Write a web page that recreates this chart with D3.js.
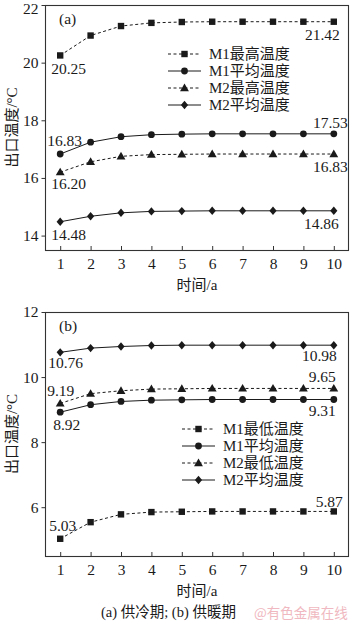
<!DOCTYPE html>
<html>
<head>
<meta charset="utf-8">
<script src="https://cdn.jsdelivr.net/npm/d3@7"></script>
<style>
  html, body { margin: 0; padding: 0; background: #fff; }
  svg { display: block; }
  .num { font-family: "Liberation Serif", "Times New Roman", serif; }
  .cjk { font-family: "Liberation Serif", "Noto Sans CJK SC", serif; }
</style>
</head>
<body>
<svg id="chart" width="350" height="624"></svg>
<script>
// Years on the x axis
const years = [1, 2, 3, 4, 5, 6, 7, 8, 9, 10];

// (a) cooling period, outlet temperature (°C)
const coolM1Max = [20.25, 20.94, 21.27, 21.38, 21.41, 21.42, 21.42, 21.42, 21.42, 21.42];
const coolM1Avg = [16.83, 17.24, 17.43, 17.50, 17.52, 17.53, 17.53, 17.53, 17.53, 17.53];
const coolM2Max = [16.20, 16.56, 16.75, 16.81, 16.82, 16.83, 16.83, 16.83, 16.83, 16.83];
const coolM2Avg = [14.48, 14.67, 14.79, 14.84, 14.85, 14.86, 14.86, 14.86, 14.86, 14.86];

// (b) heating period, outlet temperature (°C)
const heatM1Min = [5.03, 5.54, 5.78, 5.85, 5.86, 5.87, 5.87, 5.87, 5.87, 5.87];
const heatM1Avg = [8.92, 9.15, 9.25, 9.29, 9.30, 9.31, 9.31, 9.31, 9.31, 9.31];
const heatM2Min = [9.19, 9.49, 9.58, 9.63, 9.64, 9.65, 9.65, 9.65, 9.65, 9.65];
const heatM2Avg = [10.76, 10.89, 10.94, 10.97, 10.98, 10.98, 10.98, 10.98, 10.98, 10.98];

// Axis ticks
const coolTicks = [14, 16, 18, 20, 22];
const heatTicks = [6, 8, 10, 12];

// Texts
const legendCool = ["M1最高温度", "M1平均温度", "M2最高温度", "M2平均温度"];
const legendHeat = ["M1最低温度", "M1平均温度", "M2最低温度", "M2平均温度"];
const yTitle = "出口温度/°C";
const xTitle = "时间/a";
const caption = "(a) 供冷期; (b) 供暖期";
const watermark = "@有色金属在线";

const svg = d3.select("#chart");
const ink = "#1a1a1a";

function marker(g, shape, x, y) {
  if (shape === "square") {
    g.append("rect").attr("x", x - 3.2).attr("y", y - 3.2).attr("width", 6.4).attr("height", 6.4).attr("fill", ink);
  } else if (shape === "circle") {
    g.append("circle").attr("cx", x).attr("cy", y).attr("r", 3.4).attr("fill", ink);
  } else if (shape === "triangle") {
    g.append("path").attr("d", d3.symbol(d3.symbolTriangle, 34)()).attr("transform", `translate(${x},${y + 0.6})`).attr("fill", ink);
  } else {
    g.append("path").attr("d", `M0,-4.2L3.6,0L0,4.2L-3.6,0Z`).attr("transform", `translate(${x},${y})`).attr("fill", ink);
  }
}

function panel(cfg) {
  const { top, bottom, left, right, domain, ticks, series, legend, tag, legendX, legendY } = cfg;
  const x = d3.scaleLinear().domain([0.5, 10.5]).range([left, right]);
  const y = d3.scaleLinear().domain(domain).range([bottom, top]);
  const g = svg.append("g");

  // y axis (outward ticks)
  const ya = g.append("g").attr("transform", `translate(${left},0)`)
    .call(d3.axisLeft(y).tickValues(ticks).tickSize(3.5).tickPadding(3).tickFormat(d3.format("d")));
  ya.select(".domain").remove();
  ya.selectAll("line").attr("stroke", "#333");
  ya.selectAll("text").attr("class", "num").attr("font-size", 15.5).attr("fill", ink)
    // keep the topmost label inside the page
    .attr("dy", d => (y(d) < 10 ? "0.55em" : "0.32em"));

  // x axis (inward ticks)
  const xa = g.append("g").attr("transform", `translate(0,${bottom})`)
    .call(d3.axisBottom(x).tickValues(years).tickSize(-4).tickPadding(8));
  xa.select(".domain").remove();
  xa.selectAll("line").attr("stroke", "#333");
  xa.selectAll("text").attr("class", "num").attr("font-size", 15.5).attr("fill", ink);

  // frame
  g.append("rect").attr("x", left + 0.5).attr("y", top + 0.5)
    .attr("width", right - left - 1).attr("height", bottom - top)
    .attr("fill", "none").attr("stroke", "#333").attr("stroke-width", 1.1);

  // panel tag
  g.append("text").attr("class", "num").attr("x", left + 14).attr("y", top + 19)
    .attr("font-size", 15.5).attr("fill", ink).text(tag);

  // series
  const line = d3.line().x((d, i) => x(years[i])).y(d => y(d));
  series.forEach(s => {
    g.append("path").attr("d", line(s.values)).attr("fill", "none")
      .attr("stroke", ink).attr("stroke-width", 1)
      .attr("stroke-dasharray", s.dashed ? "3,2.5" : null);
    s.values.forEach((v, i) => marker(g, s.shape, x(years[i]), y(v)));
    // value labels at first and last year
    const n = s.values.length - 1;
    g.append("text").attr("class", "num").attr("font-size", 15.5).attr("fill", ink)
      .attr("x", x(years[0]) + s.first[0]).attr("y", y(s.values[0]) + s.first[1])
      .attr("dominant-baseline", "central").attr("text-anchor", "start")
      .text(s.values[0].toFixed(2));
    g.append("text").attr("class", "num").attr("font-size", 15.5).attr("fill", ink)
      .attr("x", x(years[n]) + s.last[0]).attr("y", y(s.values[n]) + s.last[1])
      .attr("dominant-baseline", "central").attr("text-anchor", "end")
      .text(s.values[n].toFixed(2));
  });

  // legend
  series.forEach((s, i) => {
    const ly = legendY + i * 17;
    g.append("line").attr("x1", legendX).attr("x2", legendX + 33).attr("y1", ly).attr("y2", ly)
      .attr("stroke", ink).attr("stroke-width", 1)
      .attr("stroke-dasharray", s.dashed ? "3,2.5" : null);
    marker(g, s.shape, legendX + 16.5, ly);
    g.append("text").attr("class", "cjk").attr("x", legendX + 41).attr("y", ly)
      .attr("dominant-baseline", "central").attr("font-size", 15).attr("fill", ink)
      .text(legend[i]);
  });

  // axis titles
  g.append("text").attr("class", "cjk").attr("font-size", 15).attr("fill", ink)
    .attr("text-anchor", "middle").attr("dominant-baseline", "central")
    .attr("transform", `translate(12,${(top + bottom) / 2}) rotate(-90)`).text(yTitle);
  g.append("text").attr("class", "cjk").attr("font-size", 15).attr("fill", ink)
    .attr("text-anchor", "middle").attr("dominant-baseline", "central")
    .attr("x", (left + right) / 2).attr("y", bottom + 35).text(xTitle);
}

panel({
  top: 5, bottom: 250, left: 45, right: 349, domain: [13.5, 22], ticks: coolTicks, tag: "(a)",
  legend: legendCool, legendX: 168, legendY: 54,
  series: [
    { values: coolM1Max, shape: "square", dashed: true, first: [-9, 13], last: [6, 13] },
    { values: coolM1Avg, shape: "circle", dashed: false, first: [-13, -14], last: [14, -11] },
    { values: coolM2Max, shape: "triangle", dashed: true, first: [-9, 11], last: [14, 12] },
    { values: coolM2Avg, shape: "diamond", dashed: false, first: [-9, 13], last: [5, 13] }
  ]
});

panel({
  top: 312, bottom: 556, left: 45, right: 349, domain: [4.5, 12], ticks: heatTicks, tag: "(b)",
  legend: legendHeat, legendX: 182, legendY: 429,
  series: [
    { values: heatM1Min, shape: "square", dashed: true, first: [-11, -13], last: [9, -10] },
    { values: heatM1Avg, shape: "circle", dashed: false, first: [-7, 12], last: [2, 11] },
    { values: heatM2Min, shape: "triangle", dashed: true, first: [-13, -13], last: [2, -12] },
    { values: heatM2Avg, shape: "diamond", dashed: false, first: [-12, 10], last: [3, 10] }
  ]
});

// caption and source mark
svg.append("text").attr("class", "cjk").attr("font-size", 14.5).attr("fill", ink)
  .attr("x", 101).attr("y", 612).attr("dominant-baseline", "central").text(caption);
svg.append("text").attr("font-family", "Noto Sans CJK SC").attr("font-size", 13.5).attr("fill", "#f0b8c0")
  .attr("x", 254).attr("y", 612).attr("dominant-baseline", "central").text(watermark);
</script>
</body>
</html>
